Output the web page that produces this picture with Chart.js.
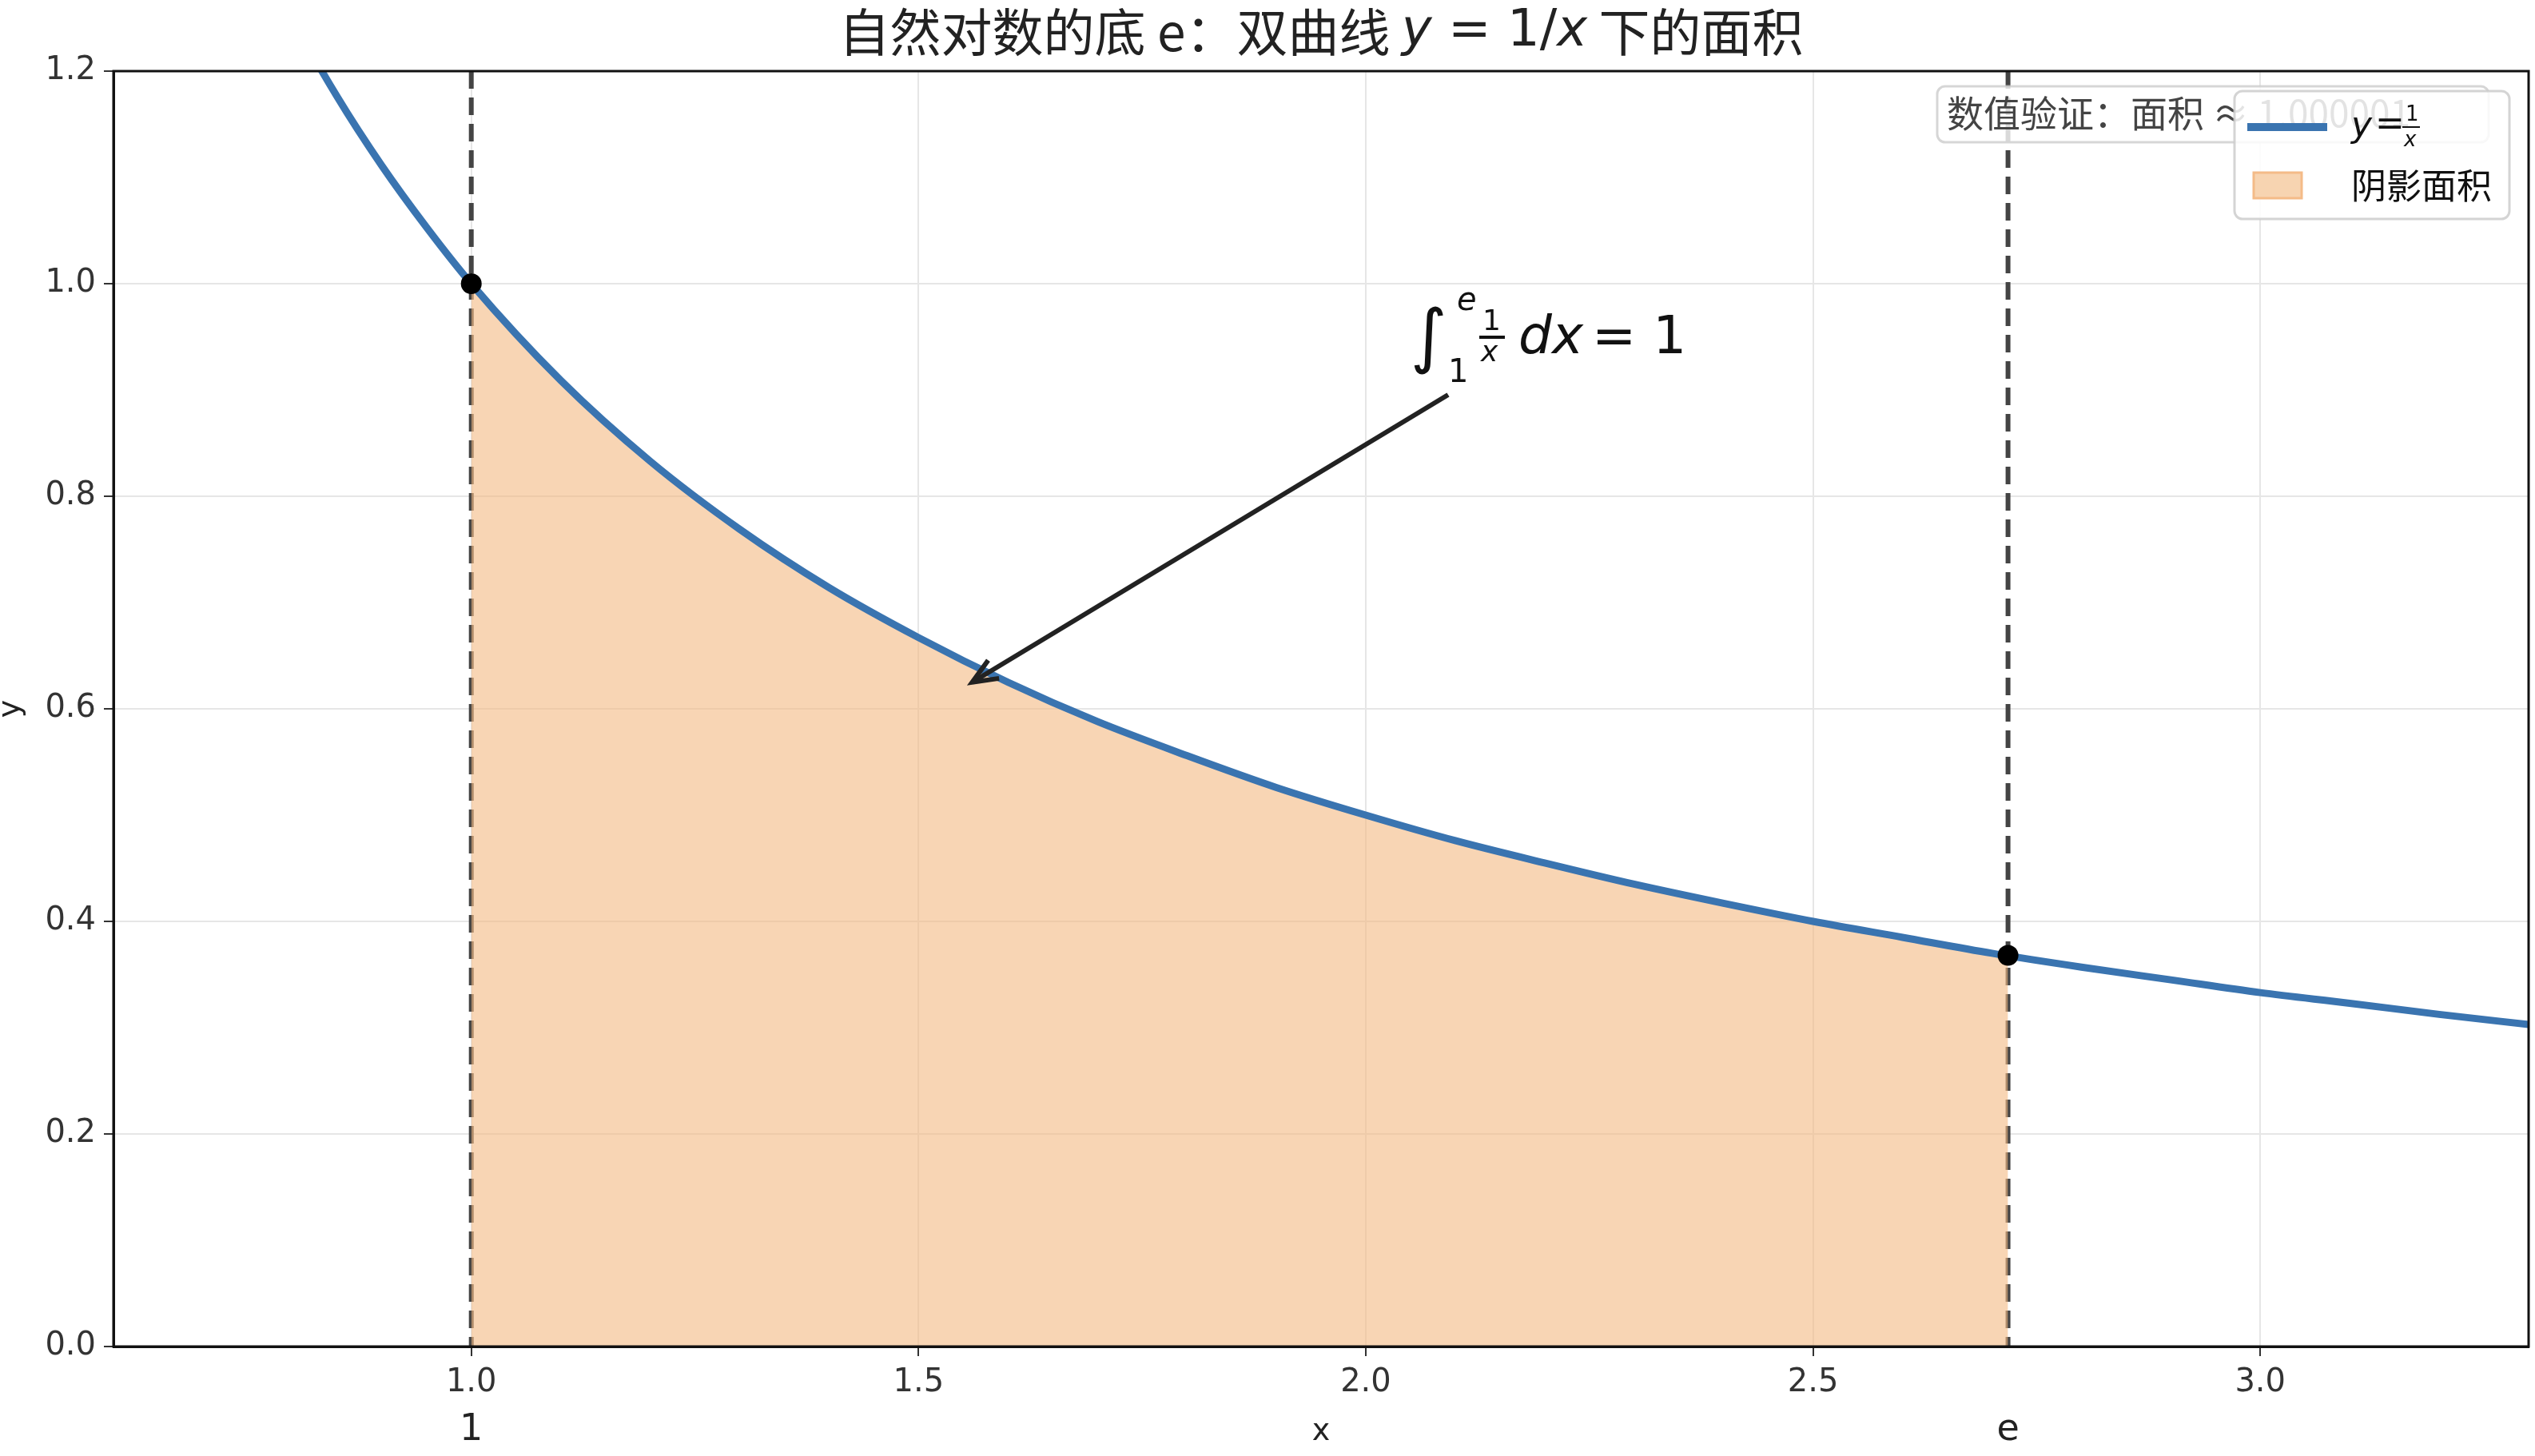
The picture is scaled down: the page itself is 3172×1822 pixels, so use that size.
<!DOCTYPE html>
<html><head><meta charset="utf-8">
<script src="https://cdn.jsdelivr.net/npm/chart.js@4"></script>
<style>html,body{margin:0;padding:0;background:#fff}#w{width:3172px;height:1822px}</style>
</head><body><div id="w"><canvas id="c"></canvas></div>
<script>
const curveX=[0.6,0.7,0.8,0.85,0.9,0.95,1.0,1.1,1.2,1.3,1.4,1.5,1.6,1.7,1.8,1.9,2.0,2.1,2.2,2.3,2.4,2.5,2.6,2.7,2.8,2.9,3.0,3.1,3.2,3.3];
const curveY=[1.667,1.429,1.25,1.176,1.111,1.053,1.0,0.909,0.833,0.769,0.714,0.667,0.625,0.588,0.556,0.526,0.5,0.476,0.455,0.435,0.417,0.4,0.385,0.370,0.357,0.345,0.333,0.323,0.3125,0.303];
const areaX=[1.0,1.1,1.2,1.3,1.4,1.5,1.6,1.7,1.8,1.9,2.0,2.1,2.2,2.3,2.4,2.5,2.6,2.7,2.718];
const areaY=[1.0,0.909,0.833,0.769,0.714,0.667,0.625,0.588,0.556,0.526,0.5,0.476,0.455,0.435,0.417,0.4,0.385,0.370,0.368];
const xTicks=[1.0,1.5,2.0,2.5,3.0];
const markX=[1.0,2.718];
const markY=[1.0,0.368];
const markLabels=['1','e'];
const F='"DejaVu Sans","Noto Sans CJK SC",sans-serif';
const FC='"Noto Sans CJK SC","DejaVu Sans",sans-serif';
const pts=(xs,ys)=>xs.map((x,i)=>({x,y:ys[i]}));
const deco={id:'deco',
beforeDatasetsDraw(ch){const {ctx,scales:{x,y},chartArea:a}=ch;
 ctx.save();ctx.strokeStyle='#444';ctx.lineWidth=6;ctx.setLineDash([22,11]);
 markX.forEach(v=>{ctx.beginPath();ctx.moveTo(x.getPixelForValue(v),a.top);ctx.lineTo(x.getPixelForValue(v),a.bottom);ctx.stroke();});
 ctx.restore();},
afterDatasetsDraw(ch){const {ctx,scales:{x,y},chartArea:a}=ch;ctx.save();
 ctx.strokeStyle='#111';ctx.lineWidth=3;ctx.strokeRect(a.left,a.top,a.right-a.left,a.bottom-a.top);
 ctx.fillStyle='#000';markX.forEach((v,i)=>{ctx.beginPath();ctx.arc(x.getPixelForValue(v),y.getPixelForValue(markY[i]),13,0,7);ctx.fill();});
 // title
 ctx.fillStyle='#222';ctx.textBaseline='middle';
 const S=64;
 ctx.font='italic '+S+'px '+F;const wy=ctx.measureText('y').width,wx=ctx.measureText('x').width;ctx.font=S+'px '+F;const wn=ctx.measureText(' = 1/').width;
 const t1='自然对数的底 e：双曲线 ',t3=' 下的面积';
 ctx.font=S+'px '+FC;const w1=ctx.measureText(t1).width,w3=ctx.measureText(t3).width;
 let tx=(a.left+a.right)/2-(w1+w3+wy+wx+wn)/2,ty=40;ctx.textAlign='left';
 ctx.fillText(t1,tx,ty);tx+=w1;ctx.font='italic '+S+'px '+F;ctx.fillText('y',tx,ty);tx+=wy;
 ctx.font=S+'px '+F;ctx.fillText(' = 1/',tx,ty);tx+=wn;ctx.font='italic '+S+'px '+F;ctx.fillText('x',tx,ty);tx+=wx;
 ctx.font=S+'px '+FC;ctx.fillText(t3,tx,ty);
 // axis labels
 ctx.fillStyle='#222';ctx.textAlign='center';ctx.font='38px '+F;
 ctx.fillText('x',(a.left+a.right)/2,1792);
 ctx.save();ctx.translate(14,y.getPixelForValue(0.6));ctx.rotate(-Math.PI/2);ctx.fillText('y',0,0);ctx.restore();
 ctx.font='46px '+F;markX.forEach((v,i)=>ctx.fillText(markLabels[i],x.getPixelForValue(v),1790));
 // arrow
 const x0=1812,y0=494,x1=x.getPixelForValue(1.56),y1=y.getPixelForValue(0.625);
 ctx.strokeStyle='#222';ctx.lineWidth=6;ctx.beginPath();ctx.moveTo(x0,y0);ctx.lineTo(x1,y1);ctx.stroke();
 const ang=Math.atan2(y1-y0,x1-x0);ctx.beginPath();
 ctx.moveTo(x1-34*Math.cos(ang-0.4),y1-34*Math.sin(ang-0.4));ctx.lineTo(x1,y1);ctx.lineTo(x1-34*Math.cos(ang+0.4),y1-34*Math.sin(ang+0.4));ctx.stroke();
 // integral
 ctx.fillStyle='#111';ctx.textAlign='left';ctx.textBaseline='alphabetic';
 ctx.font='88px '+F;ctx.fillText('∫',1765,450);
 ctx.font='italic 40px '+F;ctx.fillText('e',1823,388);ctx.font='40px '+F;ctx.fillText('1',1812,478);
 ctx.font='36px '+F;ctx.fillText('1',1855,413);ctx.fillRect(1851,420,32,4);ctx.font='italic 36px '+F;ctx.fillText('x',1853,452);
 ctx.font='italic 66px '+F;ctx.fillText('dx',1900,442);ctx.font='66px '+F;ctx.fillText('= 1',1992,442);
 // info box
 ctx.globalAlpha=0.8;ctx.fillStyle='#fff';ctx.strokeStyle='#ccc';ctx.lineWidth=3;
 ctx.beginPath();ctx.roundRect(2424,108,690,70,10);ctx.fill();ctx.stroke();ctx.globalAlpha=1;
 ctx.fillStyle='#444';ctx.font='46px '+FC;ctx.textBaseline='middle';ctx.fillText('数值验证：面积 ≈ 1.000001',2436,142);
 // legend
 ctx.globalAlpha=0.85;ctx.fillStyle='#fff';ctx.strokeStyle='#ccc';ctx.beginPath();ctx.roundRect(2796,114,344,160,10);ctx.fill();ctx.stroke();ctx.globalAlpha=1;
 ctx.fillStyle='#3a74b0';ctx.fillRect(2812,154,100,10);
 ctx.fillStyle='#f7d4b1';ctx.strokeStyle='#f4bb88';ctx.lineWidth=3;ctx.fillRect(2820,216,60,32);ctx.strokeRect(2820,216,60,32);
 ctx.fillStyle='#111';ctx.font='italic 44px '+F;ctx.fillText('y',2942,160);ctx.font='44px '+F;ctx.fillText('=',2972,158);
 ctx.font='26px '+F;ctx.fillText('1',3010,144);ctx.fillRect(3006,158,22,2);ctx.font='italic 26px '+F;ctx.fillText('x',3008,176);
 ctx.font='44px '+FC;ctx.fillText('阴影面积',2942,232);
 ctx.restore();}};
new Chart(document.getElementById('c'),{type:'scatter',
data:{datasets:[
 {data:pts(areaX,areaY),showLine:true,borderWidth:0,pointRadius:0,backgroundColor:'rgba(244,185,130,0.6)',fill:'origin',cubicInterpolationMode:'monotone',order:2},
 {data:pts(curveX,curveY),showLine:true,borderColor:'#3a74b0',borderWidth:9,pointRadius:0,fill:false,cubicInterpolationMode:'monotone',order:1}
]},
options:{responsive:true,maintainAspectRatio:false,animation:false,devicePixelRatio:1,
 layout:{padding:{top:89,right:8,left:0,bottom:0}},
 plugins:{legend:{display:false},tooltip:{enabled:false}},
 scales:{
  x:{type:'linear',min:0.6,max:3.3,afterBuildTicks:s=>{s.ticks=xTicks.map(v=>({value:v}));},
   ticks:{color:'#333',font:{size:40,family:F},padding:10,callback:v=>v.toFixed(1)},
   grid:{color:'#e6e6e6',lineWidth:2,tickLength:12,tickColor:'#333'},border:{color:'#111',width:3},
   afterFit:s=>{s.height=137;}},
  y:{min:0,max:1.2,ticks:{stepSize:0.2,color:'#333',font:{size:40,family:F},padding:10,callback:v=>v.toFixed(1)},
   grid:{color:'#e6e6e6',lineWidth:2,tickLength:12,tickColor:'#333'},border:{color:'#111',width:3},
   afterFit:s=>{s.width=142;}}
 }},
plugins:[deco]});
</script></body></html>
